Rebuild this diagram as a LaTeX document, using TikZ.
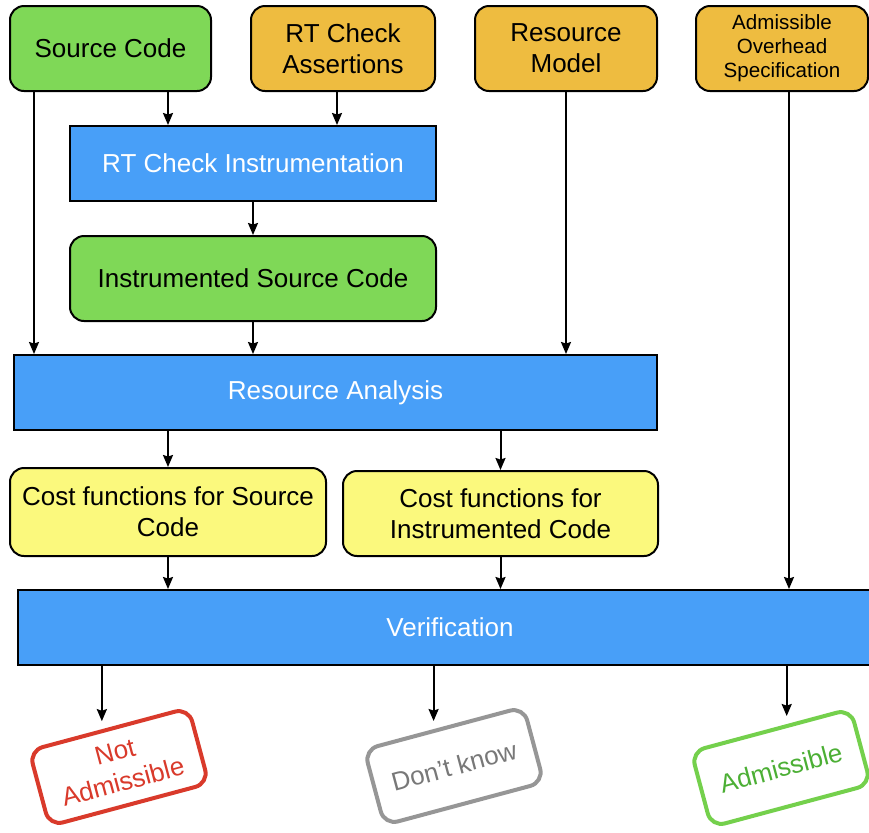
\documentclass[tikz,border=0pt]{standalone}
\usepackage{fontspec}
\setmainfont{Liberation Sans}
\usepackage{tikz}
\usetikzlibrary{arrows.meta,calc}

\definecolor{codegreen}{RGB}{127,216,87}
\definecolor{specorange}{RGB}{238,188,64}
\definecolor{toolblue}{RGB}{72,159,248}
\definecolor{costyellow}{RGB}{251,249,125}
\definecolor{stampred}{RGB}{217,58,43}
\definecolor{stampgray}{RGB}{150,150,150}
\definecolor{stampgreen}{RGB}{116,208,76}
\definecolor{stampgreentext}{RGB}{76,175,53}

\begin{document}
\begin{tikzpicture}[
  x=0.5pt, y=-0.5pt,
  every node/.style={font=\fontsize{13}{15.5}\selectfont, align=center, inner sep=0pt},
  inbox/.style={draw, line width=1pt, rounded corners=7pt, minimum height=42.5pt},
  codebox/.style={inbox, fill=codegreen},
  specbox/.style={inbox, fill=specorange},
  toolbox/.style={draw, line width=1pt, fill=toolblue, text=white, minimum height=37.5pt},
  costbox/.style={inbox, fill=costyellow},
  stamp/.style={draw, line width=2pt, rounded corners=7pt, fill=white,
                minimum width=82.5pt, minimum height=39pt, rotate=15},
  >={Stealth[length=6pt,width=5pt,inset=0.8pt]},
  line width=1pt
]
\useasboundingbox (0,0) rectangle (869,832);

\node[codebox, minimum width=100.5pt] (src) at (110.5,48.5) {Source Code};
\node[specbox, minimum width=92pt]    (rta) at (343,48.5)   {RT Check\\Assertions};
\node[specbox, minimum width=91pt]    (rm)  at (566,48.5)   {Resource\\Model};
\node[specbox, minimum width=86pt, font=\fontsize{10.3}{12}\selectfont]
                                      (aos) at (782,48.5)   {Admissible\\Overhead\\Specification};

\node[toolbox, minimum width=183pt]   (rti) at (253,163.5)  {RT Check Instrumentation};
\node[codebox, minimum width=183pt]   (isc) at (253,278.5)  {Instrumented Source Code};
\node[toolbox, minimum width=321.5pt] (ra)  at (335.5,392.5) {Resource Analysis};

\node[costbox, minimum width=158pt, minimum height=44pt]
                                      (cfs) at (168,512)    {Cost functions for Source\\Code};
\node[costbox, minimum width=157.5pt] (cfi) at (500.5,513.5) {Cost functions for\\Instrumented Code};

\node[toolbox, minimum width=432pt]   (ver) at (450,627.5)  {Verification};

\node[stamp, draw=stampred, text=stampred]           (na) at (119,767) {Not\\Admissible};
\node[stamp, draw=stampgray, text=stampgray!80!black] (dk) at (454,766) {Don’t know};
\node[stamp, draw=stampgreen, text=stampgreentext]   (ad) at (781,768) {Admissible};

\coordinate (naTop) at ($(na.north west)!.46!(na.north east)$);
\coordinate (dkTop) at ($(dk.north west)!.44!(dk.north east)$);
\coordinate (adTop) at ($(ad.north west)!.60!(ad.north east)$);

\draw[->] (src.south -| 168,0) -- (rti.north -| 168,0);
\draw[->] (rta.south -| 337,0) -- (rti.north -| 337,0);
\draw[->] (rti) -- (isc);
\draw[->] (src.south -| 34,0)  -- (ra.north -| 34,0);
\draw[->] (isc.south) -- (ra.north -| isc.south);
\draw[->] (rm) -- (ra.north -| rm.south);
\draw[->] (aos.south -| 789,0) -- (ver.north -| 789,0);

\draw[->] (ra.south -| cfs.north) -- (cfs);
\draw[->] (ra.south -| cfi.north) -- (cfi);
\draw[->] (cfs) -- (ver.north -| cfs.south);
\draw[->] (cfi) -- (ver.north -| cfi.south);

\draw[->] (ver.south -| naTop) -- ([yshift=4pt]naTop);
\draw[->] (ver.south -| dkTop) -- ([yshift=4pt]dkTop);
\draw[->] (ver.south -| adTop) -- ([yshift=4pt]adTop);
\end{tikzpicture}
\end{document}
